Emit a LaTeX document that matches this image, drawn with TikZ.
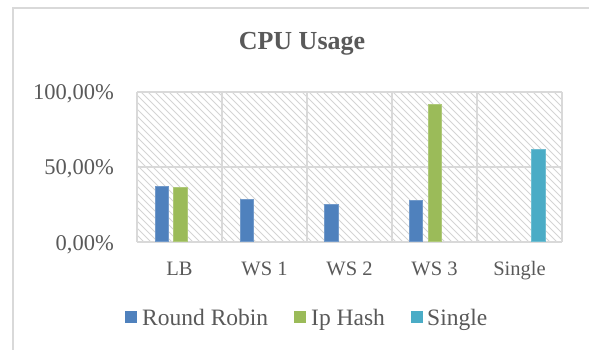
\documentclass[tikz,border=0pt]{standalone}
\usepackage{fontspec}
\setmainfont{Liberation Serif}
\definecolor{txt}{HTML}{595959}
\definecolor{gridc}{HTML}{D9D9D9}
\definecolor{hatchc}{HTML}{D4D4D4}
\definecolor{rr}{HTML}{4F81BD}
\definecolor{iph}{HTML}{9BBB59}
\definecolor{sgl}{HTML}{4BACC6}
\begin{document}
\begin{tikzpicture}[x=1pt,y=-1pt,
  gridline/.style={draw=gridc,line width=1.5pt},
  ticklab/.style={anchor=base east,text=txt,font=\fontsize{22.5}{26}\selectfont,inner sep=0pt},
  catlab/.style={anchor=base,text=txt,font=\fontsize{20.5}{24}\selectfont,inner sep=0pt},
  leglab/.style={anchor=base west,text=txt,font=\fontsize{23.5}{27}\selectfont,inner sep=0pt},
  barbox/.style={line width=0.4pt},
]
\useasboundingbox (0,0) rectangle (589,350);
% outer frame (top and left edges)
\draw[gridline] (13,350) -- (13,8) -- (589,8);
% title
\node[anchor=base,text=txt,font=\fontsize{26}{30}\selectfont\bfseries,inner sep=0pt] (title) at (302,49.5) {CPU Usage};
% hatch
\begin{scope}
\clip (137,92) rectangle (562,242);
\foreach \i in {-160,-153,...,570} {
  \draw[hatchc,line width=0.9pt] (\i,92) -- (\i+150,242);
}
\end{scope}
% grid
\foreach \x in {137,222,307,392,477,562} \draw[gridline] (\x,92) -- (\x,242);
\foreach \y in {92,167,242} \draw[gridline] (137,\y) -- (562,\y);
% tick labels
\node[ticklab] (t100) at (114,100) {100,00\%};
\node[ticklab] (t50) at (114,175) {50,00\%};
\node[ticklab] (t0) at (114,250) {0,00\%};
% bars
\fill[rr,draw=rr!80!white,barbox] (155,186) rectangle (168.5,241.5);
\fill[iph,draw=iph!80!white,barbox] (173.5,186.7) rectangle (187,241.5);
\fill[rr,draw=rr!80!white,barbox] (240,199.3) rectangle (253.5,241.5);
\fill[rr,draw=rr!80!white,barbox] (324.5,204) rectangle (338,241.5);
\fill[rr,draw=rr!80!white,barbox] (409,200) rectangle (422.5,241.5);
\fill[iph,draw=iph!80!white,barbox] (427.7,104) rectangle (441.2,241.5);
\fill[sgl,draw=sgl!80!white,barbox] (531,149) rectangle (545,241.5);
% category labels
\node[catlab] (cLB) at (179.5,275) {LB};
\node[catlab] (cWS1) at (264.5,275) {WS 1};
\node[catlab] (cWS2) at (349.5,275) {WS 2};
\node[catlab] (cWS3) at (434.5,275) {WS 3};
\node[catlab] (cS) at (519.5,275) {Single};
% legend
\fill[rr] (125,311) rectangle (136.7,322.5);
\node[leglab] (lRR) at (142,325) {Round Robin};
\fill[iph] (294,311) rectangle (305.7,322.5);
\node[leglab] (lIP) at (311,325) {Ip Hash};
\fill[sgl] (411,311) rectangle (422.7,322.5);
\node[leglab] (lS) at (427,325) {Single};
\end{tikzpicture}
\end{document}
